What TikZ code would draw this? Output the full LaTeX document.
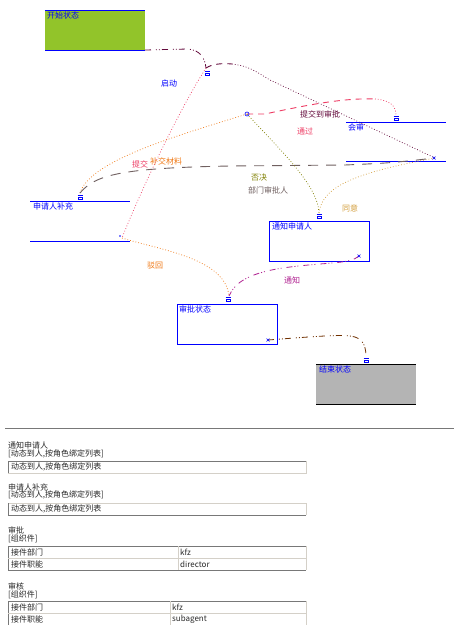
\documentclass[tikz,border=0pt]{standalone}
\usepackage{fontspec}
\newfontfamily\cjk{Noto Sans CJK SC}
\definecolor{cgreen}{RGB}{146,196,42}
\definecolor{cgraybox}{RGB}{180,180,180}
\definecolor{cmaroon}{RGB}{100,10,60}
\definecolor{cpink}{RGB}{238,60,100}
\definecolor{corange}{RGB}{240,120,20}
\definecolor{cgrayl}{RGB}{112,96,96}
\definecolor{colive}{RGB}{128,128,0}
\definecolor{cgold}{RGB}{212,160,64}
\definecolor{cpurple}{RGB}{176,32,144}
\definecolor{cbrown}{RGB}{112,48,0}
\definecolor{ctext}{RGB}{40,40,40}
\definecolor{cdark}{RGB}{120,120,120}
\definecolor{clight}{RGB}{212,208,200}
\tikzset{
  sbox/.style={minimum width=100pt,minimum height=40pt,inner sep=0pt,outer sep=0pt},
  slbl/.style={anchor=west,inner sep=0pt,text=blue},
  lbl/.style={anchor=west,inner sep=0pt},
  dotl/.style={line width=0.7pt,dash pattern=on 0.8pt off 2pt},
  dashl/.style={line width=0.9pt,dash pattern=on 6pt off 5pt},
  mixl/.style={line width=0.8pt,dash pattern=on 6pt off 5pt on 1pt off 2pt on 1pt off 2pt},
  bar/.style={blue,line width=1pt},
  ftxt/.style={anchor=west,inner sep=0pt,text=ctext},
  mk/.pic={\draw[blue,line width=0.6pt] (-2.5,-1.5)--(2.5,-1.5);
           \draw[blue,line width=0.6pt] (-1.8,0.3) rectangle (1.8,2.6);},
  xm/.pic={\draw[blue,line width=0.6pt] (-1.5,-1.5)--(1.5,1.5) (-1.5,1.5)--(1.5,-1.5);}
}
\begin{document}
\begin{tikzpicture}[x=1pt,y=-1pt,font=\cjk\fontsize{8}{9}\selectfont]
\useasboundingbox[fill=white] (0,0) rectangle (456,625);

% ---------- states ----------
\node[sbox,fill=cgreen] (start) at (95,30) {};
\draw[bar] (start.north west) -- (start.north east);
\draw[bar] (start.south west) -- (start.south east);
\node[slbl] (startL) at (47,15) {开始状态};

\node[sbox,draw=blue,line width=0.9pt] (notify) at (319,241) {};
\node[slbl] (notifyL) at (272,226) {通知申请人};

\node[sbox,draw=blue,line width=0.9pt] (appr) at (227,324) {};
\node[slbl] (apprL) at (179,309) {审批状态};

\node[sbox,fill=cgraybox] (end) at (366,384) {};
\draw[black,line width=1pt] (end.north west) -- (end.north east);
\draw[black,line width=1pt] (end.south west) -- (end.south east);
\node[slbl] (endL) at (319,369) {结束状态};

% bar-only states
\coordinate (supL) at (30,201); \coordinate (supR) at (130,201);
\draw[bar] (supL) -- (supR);
\node[slbl] (supLbl) at (33,206) {申请人补充};
\coordinate (forkL) at (30,241); \coordinate (forkR) at (130,241);
\draw[bar] (forkL) -- (forkR);
\coordinate (hsL) at (346,122); \coordinate (hsR) at (446,122);
\draw[bar] (hsL) -- (hsR);
\node[slbl] (hsLbl) at (348,127) {会审};
\coordinate (r2L) at (346,161); \coordinate (r2R) at (446,161);
\draw[bar] (r2L) -- (r2R);

% ---------- connection points ----------
\coordinate (mA) at (206,68);
\coordinate (mB) at (80,193);
\coordinate (circ) at (247,114);
\coordinate (mC) at (396,115);
\coordinate (mD) at (435,158);
\coordinate (mE) at (319,213);
\coordinate (mF) at (122,238);
\coordinate (mG) at (229,296);
\coordinate (xH) at (359,256);
\coordinate (xI) at (268,340);
\coordinate (mJ) at (366,357);

% ---------- connectors ----------
\draw[cmaroon,mixl] (start.south east) -- (188,49) .. controls (200,50) and (205,58) .. (mA);
\draw[cpink,dotl] (mA) .. controls (185,100) and (145,180) .. (mF);
\draw[cmaroon,dashl] (mA) .. controls (212,64) and (222,63) .. (232,64);
\draw[cmaroon,dotl] (232,64) .. controls (250,66) and (258,73) .. (270,80) -- (mD);
\draw[corange,dotl] (mB) .. controls (90,160) and (180,135) .. (circ);
\draw[cgrayl,line width=0.9pt,dash pattern=on 10pt off 8pt] (mB) .. controls (95,175) and (120,168) .. (230,166) -- (345,165) .. controls (390,163) .. (mD);
\draw[cpink,dashl] (circ) -- (265,114) .. controls (320,102) and (350,98) .. (375,99);
\draw[cpink,dotl] (375,99) .. controls (390,100) and (396,106) .. (mC);
\draw[colive,dotl] (circ) .. controls (280,150) and (318,185) .. (mE);
\draw[cgold,dotl] (mE) .. controls (322,185) and (360,172) .. (mD);
\draw[corange,dotl] (mF) .. controls (160,250) and (225,258) .. (mG);
\draw[cpurple,mixl] (xH) .. controls (350,264) and (330,262) .. (290,267) .. controls (250,272) and (235,282) .. (mG);
\draw[cbrown,mixl] (xI) .. controls (320,336) and (345,334) .. (355,337) .. controls (364,340) and (366,348) .. (mJ);

% ---------- markers ----------
\pic at (207,73) {mk};
\pic at (80,197) {mk};
\pic at (396,118) {mk};
\pic at (319,216) {mk};
\pic at (228,299) {mk};
\pic at (366,360) {mk};
\pic at (434,158) {xm};
\pic at (xH) {xm};
\pic at (xI) {xm};
\draw[blue,line width=0.6pt] (circ) circle (2pt);
\fill[blue] (120,236) circle (0.8pt);

% ---------- connector labels ----------
\node[lbl,text=blue] (l1) at (161,83) {启动};
\node[lbl,text=cpink] (l2) at (132,164) {提交};
\node[lbl,text=corange] (l3) at (150,161) {补交材料};
\node[lbl,text=cmaroon] (l4) at (300,114) {提交到审批};
\node[lbl,text=cpink] (l5) at (297,131) {通过};
\node[lbl,text=colive] (l6) at (251,177) {否决};
\node[lbl,text=cgrayl] (l7) at (248,190) {部门审批人};
\node[lbl,text=cgold] (l8) at (342,208) {同意};
\node[lbl,text=corange] (l9) at (147,266) {驳回};
\node[lbl,text=cpurple] (l10) at (284,280) {通知};

% ---------- separator ----------
\draw[cdark,line width=0.8pt] (5,428) -- (454,428);

% ---------- form ----------
\node[ftxt] (f1) at (8,445) {通知申请人};
\node[ftxt] (f1b) at (8,454) {[动态到人,按角色绑定列表]};
\draw[cdark,line width=0.8pt] (8,473) -- (8,461) -- (306,461);
\draw[clight,line width=0.8pt] (306,461) -- (306,473) -- (8,473);
\node[ftxt] (f1c) at (11,467) {动态到人,按角色绑定列表};

\node[ftxt] (f2) at (8,487) {申请人补充};
\node[ftxt] (f2b) at (8,495) {[动态到人,按角色绑定列表]};
\draw[clight,line width=0.8pt] (8,503) -- (306,503) -- (306,515);
\draw[cdark,line width=0.8pt] (306,515) -- (8,515) -- (8,503);
\node[ftxt] (f2c) at (11,509) {动态到人,按角色绑定列表};

\node[ftxt] (f3) at (8,530) {审批};
\node[ftxt] (f3b) at (8,539) {[组织件]};
\draw[cdark,line width=0.8pt] (8,570) -- (8,546) -- (306,546);
\draw[clight,line width=0.8pt] (306,546) -- (306,570);
\draw[cdark,line width=0.8pt] (8,570) -- (306,570);
\draw[clight,line width=0.8pt] (8,558) -- (306,558);
\draw[clight,line width=0.8pt] (178,546) -- (178,570);
\node[ftxt] (t11) at (11,552) {接件部门};
\node[ftxt] (t12) at (180,552) {kfz};
\node[ftxt] (t21) at (11,564) {接件职能};
\node[ftxt] (t22) at (180,564) {director};

\node[ftxt] (f4) at (8,586) {审核};
\node[ftxt] (f4b) at (8,595) {[组织件]};
\draw[cdark,line width=0.8pt] (8,625) -- (8,601) -- (306,601);
\draw[clight,line width=0.8pt] (306,601) -- (306,625);
\draw[clight,line width=0.8pt] (8,613) -- (306,613);
\draw[clight,line width=0.8pt] (170,601) -- (170,625);
\node[ftxt] (u11) at (11,607) {接件部门};
\node[ftxt] (u12) at (172,607) {kfz};
\node[ftxt] (u21) at (11,619) {接件职能};
\node[ftxt] (u22) at (172,619) {subagent};
\end{tikzpicture}
\end{document}
